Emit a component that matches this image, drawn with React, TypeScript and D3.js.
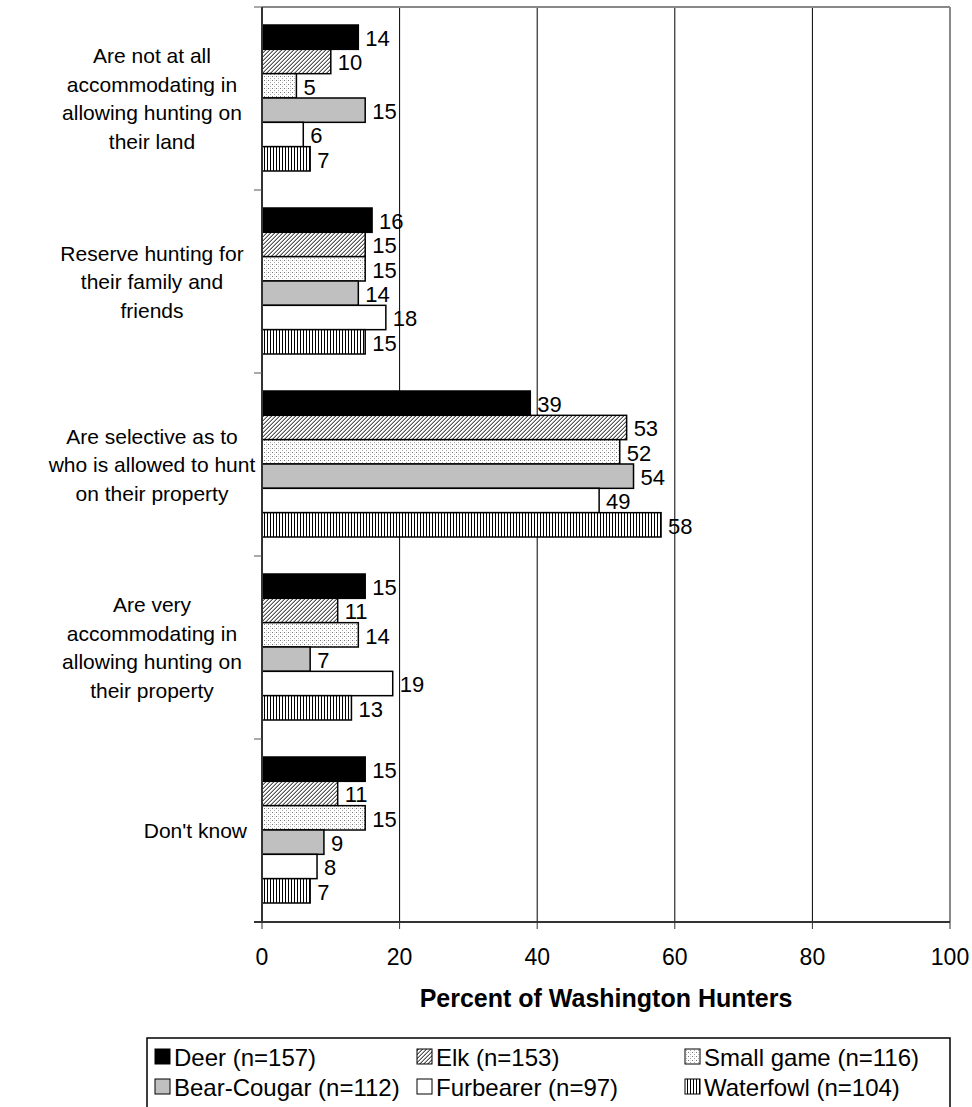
import React from "react";
import * as d3 from "d3";

const categories: string[][] = [
  ["Are not at all", "accommodating in", "allowing hunting on", "their land"],
  ["Reserve hunting for", "their family and", "friends"],
  ["Are selective as to", "who is allowed to hunt", "on their property"],
  ["Are very", "accommodating in", "allowing hunting on", "their property"],
  ["Don't know"],
];
const seriesNames = ["Deer (n=157)", "Elk (n=153)", "Small game (n=116)", "Bear-Cougar (n=112)", "Furbearer (n=97)", "Waterfowl (n=104)"];
const deer = [14, 16, 39, 15, 15];
const elk = [10, 15, 53, 11, 11];
const smallGame = [5, 15, 52, 14, 15];
const bearCougar = [15, 14, 54, 7, 9];
const furbearer = [6, 18, 49, 19, 8];
const waterfowl = [7, 15, 58, 13, 7];
const seriesValues = [deer, elk, smallGame, bearCougar, furbearer, waterfowl];
const xTicks = [0, 20, 40, 60, 80, 100];
const fills = ["#000", "url(#pElk)", "url(#pSmall)", "#c0c0c0", "#fff", "url(#pWater)"];

const W = 972, H = 1107;
const left = 262, right = 950, top = 7, bottom = 922;
const font = "Arial, 'Liberation Sans', sans-serif";
const legendCols = [155, 417, 685];
const legendRows = [1057, 1087];

export default function App() {
  const x = d3.scaleLinear().domain([0, 100]).range([left, right]);
  const y = d3.scaleBand<number>().domain(d3.range(categories.length)).range([top, bottom]).padding(0);
  const bw = y.bandwidth();
  const inner = d3.scaleBand<number>().domain(d3.range(seriesNames.length)).range([18, bw - 19]).padding(0);
  return (
    <svg width={W} height={H} style={{ position: "absolute", left: 0, top: 0 }} fontFamily={font}>
      <defs>
        <pattern id="pElk" width="4" height="4" patternUnits="userSpaceOnUse">
          <rect width="4" height="4" fill="#fff" />
          <rect x="3" y="0" width="1" height="1" fill="#555" />
          <rect x="2" y="1" width="1" height="1" fill="#555" />
          <rect x="1" y="2" width="1" height="1" fill="#555" />
          <rect x="0" y="3" width="1" height="1" fill="#555" />
          <rect x="2" y="0" width="1" height="1" fill="#aaa" />
          <rect x="1" y="1" width="1" height="1" fill="#aaa" />
          <rect x="0" y="2" width="1" height="1" fill="#aaa" />
          <rect x="3" y="3" width="1" height="1" fill="#aaa" />
        </pattern>
        <pattern id="pSmall" width="4" height="4" patternUnits="userSpaceOnUse">
          <rect width="4" height="4" fill="#fff" />
          <rect x="0" y="0" width="1" height="1" fill="#777" />
          <rect x="2" y="2" width="1" height="1" fill="#aaa" />
          <rect x="2" y="0" width="1" height="1" fill="#ddd" />
        </pattern>
        <pattern id="pWater" width="3" height="3" patternUnits="userSpaceOnUse">
          <rect width="3" height="3" fill="#fff" />
          <rect x="0" y="0" width="1" height="3" fill="#000" />
        </pattern>
      </defs>
      {xTicks.slice(1, -1).map((t) => (
        <line key={t} x1={x(t)} x2={x(t)} y1={top} y2={bottom} stroke="#000" strokeWidth={1} />
      ))}
      <line x1={left} x2={right} y1={top} y2={top} stroke="#888" strokeWidth={2} />
      <line x1={right} x2={right} y1={top} y2={bottom} stroke="#888" strokeWidth={2} />
      {categories.map((c, ci) => {
        const cy = (y(ci) as number) + bw / 2;
        const single = c.length === 1;
        return (
          <g key={ci}>
            {seriesValues.map((vals, si) => {
              const y0 = (y(ci) as number) + (inner(si) as number);
              const h = inner.bandwidth();
              return (
                <g key={si}>
                  <rect x={x(0)} y={y0} width={x(vals[ci]) - x(0)} height={h} fill={fills[si]} stroke="#000" strokeWidth={1.5} />
                  <text x={x(vals[ci]) + 7} y={y0 + h / 2 + 1} dy="0.36em" fontSize={22} fill="#000">{vals[ci]}</text>
                </g>
              );
            })}
            {c.map((line, li) => (
              <text key={li} x={single ? 247 : 152} y={cy + (li - (c.length - 1) / 2) * 28.5} dy="0.36em" fontSize={21}
                textAnchor={single ? "end" : "middle"} fill="#000">{line}</text>
            ))}
          </g>
        );
      })}
      <line x1={left} x2={left} y1={top} y2={bottom} stroke="#333" strokeWidth={2} />
      {d3.range(categories.length + 1).map((i) => {
        const yy = i < categories.length ? (y(i) as number) : bottom;
        return <line key={i} x1={left - 8} x2={left} y1={yy} y2={yy} stroke="#555" strokeWidth={1} />;
      })}
      <line x1={left - 8} x2={right} y1={bottom} y2={bottom} stroke="#333" strokeWidth={2} />
      {xTicks.map((t) => (
        <g key={t}>
          <line x1={x(t)} x2={x(t)} y1={bottom} y2={bottom + 7} stroke="#333" strokeWidth={1} />
          <text x={x(t)} y={957} dy="0.36em" fontSize={23} textAnchor="middle" fill="#000">{t}</text>
        </g>
      ))}
      <text x={(left + right) / 2} y={998} dy="0.36em" fontSize={25} fontWeight="bold" textAnchor="middle" fill="#000">Percent of Washington Hunters</text>
      <rect x={147} y={1038} width={803} height={80} fill="#fff" stroke="#000" strokeWidth={1.5} />
      {seriesNames.map((s, i) => {
        const lx = legendCols[i % 3];
        const ly = legendRows[Math.floor(i / 3)];
        return (
          <g key={s}>
            <rect x={lx} y={ly - 8} width={15} height={15} fill={fills[i]} stroke="#000" strokeWidth={1} />
            <text x={lx + 19} y={ly} dy="0.36em" fontSize={24} fill="#000">{s}</text>
          </g>
        );
      })}
    </svg>
  );
}
